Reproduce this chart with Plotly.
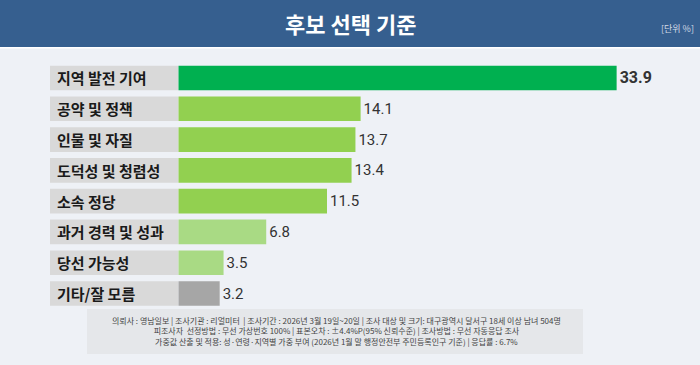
import plotly.graph_objects as go

# ---- data ----
categories = ["지역 발전 기여", "공약 및 정책", "인물 및 자질", "도덕성 및 청렴성",
              "소속 정당", "과거 경력 및 성과", "당선 가능성", "기타/잘 모름"]
values = [33.9, 14.1, 13.7, 13.4, 11.5, 6.8, 3.5, 3.2]
bar_colors = ["#00b050", "#92d050", "#92d050", "#92d050", "#92d050",
              "#a9da84", "#a9da84", "#a6a6a6"]
title_text = "후보 선택 기준"
unit_text = "[단위 %]"
footer_lines = [
    "의뢰사 : 영남일보 | 조사기관 : 리얼미터  | 조사기간 : 2026년 3월 19일~20일 | 조사 대상 및 크기: 대구광역시 달서구 18세 이상 남녀 504명",
    "피조사자  선정방법 : 무선 가상번호 100% | 표본오차 : ±4.4%P(95% 신뢰수준) | 조사방법 : 무선 자동응답 조사",
    "가중값 산출 및 적용: 성·연령·지역별 가중 부여 (2026년 1월 말 행정안전부 주민등록인구 기준) | 응답률 : 6.7%",
]

W, H = 700, 365
FONT = "Noto Sans CJK KR"

def py(px):
    return 1 - px / H

def pxx(px):
    return px / W

bar_x0 = 178.3
px_per_unit = 12.93

texts = [f"<b>{v}</b>" if i == 0 else f"{v}" for i, v in enumerate(values)]
text_sizes = [16 if i == 0 else 15 for i in range(len(values))]

fig = go.Figure()
fig.add_trace(go.Bar(
    x=values, y=categories, orientation="h",
    marker=dict(color=bar_colors, line=dict(width=0)),
    text=texts, textposition="outside",
    textfont=dict(size=text_sizes, color="#333333", family="Roboto"),
    cliponaxis=False, hoverinfo="skip",
))

shapes = []
# header band
shapes.append(dict(type="rect", xref="paper", yref="paper", x0=0, x1=1,
                   y0=py(47), y1=1, fillcolor="#365f8f", line=dict(width=0), layer="below"))
shapes.append(dict(type="rect", xref="paper", yref="paper", x0=0, x1=1,
                   y0=py(48.5), y1=py(47), fillcolor="#ffffff", line=dict(width=0), layer="below"))
# label boxes
for i, c in enumerate(categories):
    shapes.append(dict(type="rect", xref="paper", yref="y", x0=pxx(50), x1=pxx(bar_x0),
                       y0=i - 0.4, y1=i + 0.4, fillcolor="#d9d9d9",
                       line=dict(width=0), layer="below"))
# footer box
shapes.append(dict(type="rect", xref="paper", yref="paper", x0=pxx(87), x1=pxx(583),
                   y0=py(354), y1=py(309), fillcolor="#e5e7ea", line=dict(width=0), layer="below"))

annotations = []
annotations.append(dict(text=f"<b>{title_text}</b>", xref="paper", yref="paper",
                        x=0.5, y=py(23), xanchor="center", yanchor="middle", showarrow=False,
                        font=dict(size=22, color="#ffffff", family=FONT)))
annotations.append(dict(text=unit_text, xref="paper", yref="paper",
                        x=pxx(696), y=py(28), xanchor="right", yanchor="middle", showarrow=False,
                        font=dict(size=9, color="#d3dbe6", family=FONT)))
for i, c in enumerate(categories):
    annotations.append(dict(text=f"<b>{c}</b>", xref="paper", yref="y",
                            x=pxx(55), y=c, xanchor="left", yanchor="middle", showarrow=False,
                            font=dict(size=15, color="#1a1a1a", family=FONT)))
annotations.append(dict(text="<br>".join(footer_lines), xref="paper", yref="paper",
                        x=pxx(336), y=py(330.5), xanchor="center", yanchor="middle",
                        align="center", showarrow=False,
                        font=dict(size=8, color="#444444", family=FONT)))

x_max = (W - bar_x0) / px_per_unit
fig.update_layout(
    width=W, height=H,
    margin=dict(l=0, r=0, t=0, b=0),
    paper_bgcolor="#eef1f6", plot_bgcolor="rgba(0,0,0,0)",
    showlegend=False, bargap=0.2,
    xaxis=dict(domain=[pxx(bar_x0), 1], range=[0, x_max], visible=False, fixedrange=True),
    yaxis=dict(domain=[py(308.9), py(62.6)], categoryorder="array", categoryarray=categories,
               range=[len(categories) - 0.5, -0.5], visible=False, fixedrange=True),
    shapes=shapes, annotations=annotations,
    font=dict(family=FONT),
)

fig.write_html("out.html", config={"displayModeBar": False},
               post_script="document.body.style.margin='0';document.body.style.padding='0';document.body.style.overflow='hidden';")
